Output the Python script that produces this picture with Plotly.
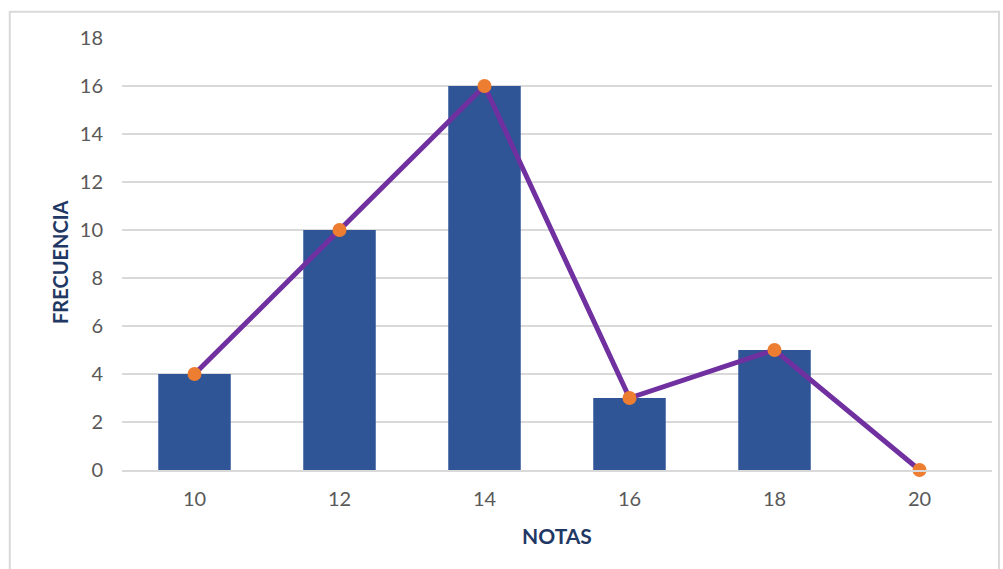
import plotly.graph_objects as go

# Grades and their frequencies
notas = ["10", "12", "14", "16", "18", "20"]
barras_notas = ["10", "12", "14", "16", "18"]
barras_frecuencia = [4, 10, 16, 3, 5]
linea_frecuencia = [4, 10, 16, 3, 5, 0]
y_ticks = [0, 2, 4, 6, 8, 10, 12, 14, 16, 18]

fig = go.Figure()

fig.add_trace(go.Bar(
    x=barras_notas,
    y=barras_frecuencia,
    width=0.5,
    marker=dict(color="#2F5597", line=dict(width=0)),
    showlegend=False,
))

fig.add_trace(go.Scatter(
    x=notas,
    y=linea_frecuencia,
    mode="lines+markers",
    line=dict(color="#7030A0", width=5),
    marker=dict(color="#ED7D31", size=14),
    showlegend=False,
    cliponaxis=False,
))

tick_font = dict(family="Lato, Open Sans, sans-serif", size=20, color="#595959")
title_color = "#1F3864"

fig.update_layout(
    width=1003,
    height=569,
    margin=dict(l=122, r=11, t=38, b=99),
    paper_bgcolor="white",
    plot_bgcolor="white",
    font=dict(family="Lato, Open Sans, sans-serif", size=20, color="#595959"),
    xaxis=dict(
        type="category",
        categoryorder="array",
        categoryarray=notas,
        range=[-0.5, 5.5],
        showgrid=False,
        showline=True,
        linecolor="#D9D9D9",
        linewidth=1.5,
        ticks="",
        tickfont=tick_font,
        ticklabelstandoff=10,
    ),
    yaxis=dict(
        range=[0, 18],
        tickvals=y_ticks,
        showgrid=True,
        gridcolor="#D9D9D9",
        gridwidth=1.5,
        zeroline=False,
        showline=False,
        ticks="",
        tickfont=tick_font,
        ticklabelstandoff=18,
    ),
    bargap=0.5,
    annotations=[
        dict(
            text="<b>NOTAS</b>", xref="paper", yref="paper",
            x=0.5, y=-0.1516, xanchor="center", yanchor="middle",
            showarrow=False,
            font=dict(family="Lato, Open Sans, sans-serif", size=21, color=title_color),
        ),
        dict(
            text="<b>FRECUENCIA</b>", xref="paper", yref="paper",
            x=-0.0713, y=0.4815, xanchor="center", yanchor="middle",
            textangle=-90, showarrow=False,
            font=dict(family="Lato, Open Sans, sans-serif", size=20, color=title_color),
        ),
    ],
    shapes=[dict(
        type="rect",
        xref="paper", yref="paper",
        x0=-0.129, x1=1.008, y0=-0.25, y1=1.061,
        line=dict(color="#D9D9D9", width=2),
        fillcolor="rgba(0,0,0,0)",
        layer="below",
    )],
)

fig.write_html("out.html")
